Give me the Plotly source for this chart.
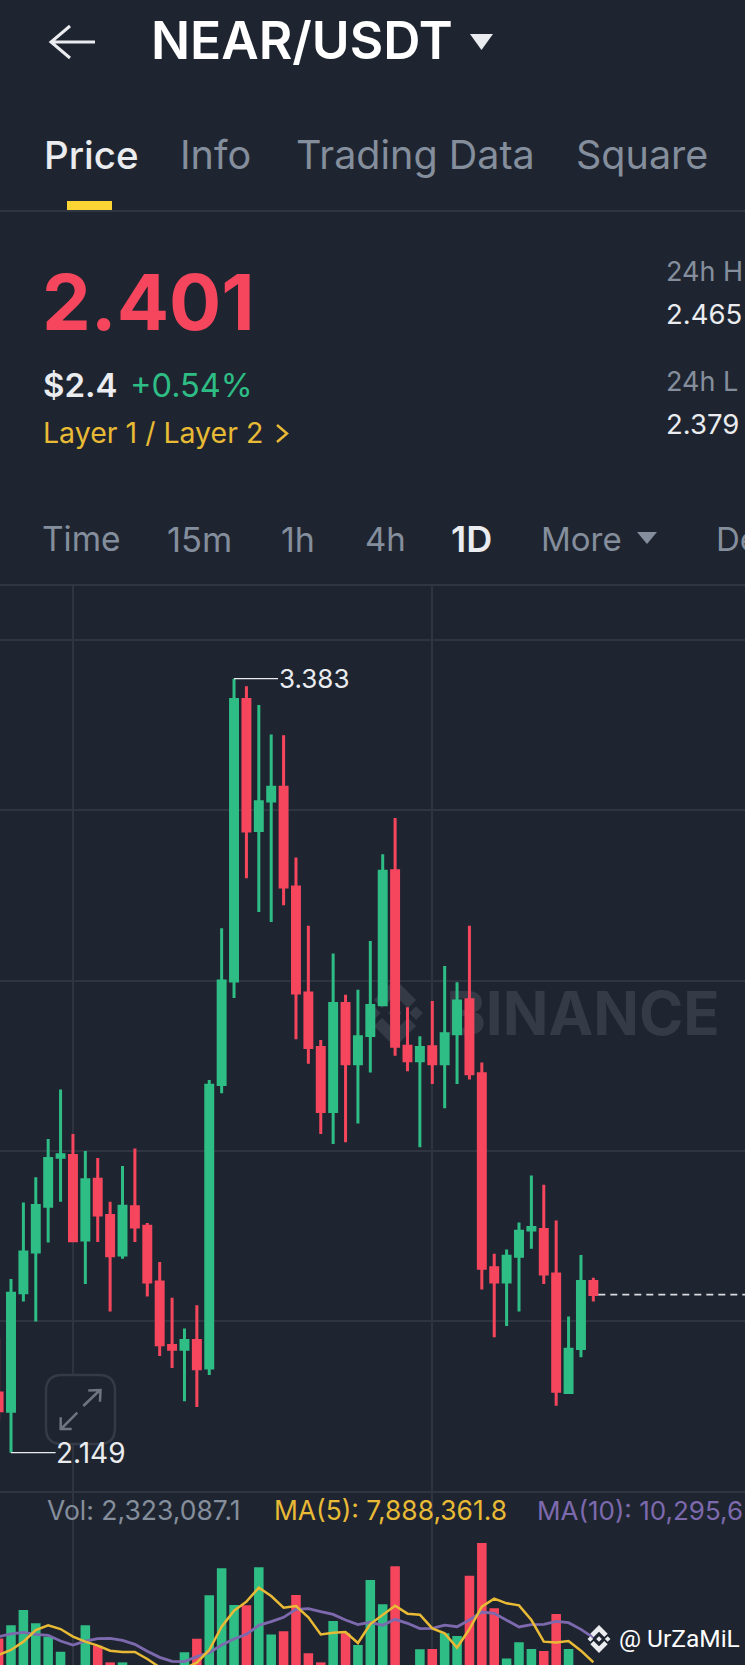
# NEAR/USDT daily candles with volume, Binance app screen
import plotly.graph_objects as go

W = 745
H = 1665

days = list(range(-1, 48))
opens = [2.244, 2.215, 2.404, 2.469, 2.542, 2.620, 2.623, 2.488, 2.585, 2.527,
         2.464, 2.541, 2.510, 2.421, 2.320, 2.314, 2.328, 2.284, 2.736, 2.901,
         3.350, 3.141, 3.188, 3.210, 3.051, 2.882, 2.795, 2.693, 2.865, 2.769,
         2.814, 2.863, 3.077, 2.797, 2.774, 2.796, 2.769, 2.817, 2.871, 2.753,
         2.444, 2.421, 2.462, 2.504, 2.505, 2.434, 2.245, 2.315, 2.422]
highs = [2.332, 2.426, 2.548, 2.588, 2.649, 2.728, 2.657, 2.630, 2.619, 2.549,
         2.606, 2.634, 2.515, 2.453, 2.396, 2.347, 2.384, 2.743, 2.985, 3.383,
         3.371, 3.341, 3.294, 3.293, 3.098, 2.989, 2.807, 2.945, 2.879, 2.887,
         2.965, 3.103, 3.161, 2.859, 2.813, 2.869, 2.925, 2.899, 2.989, 2.771,
         2.466, 2.473, 2.516, 2.591, 2.576, 2.519, 2.366, 2.464, 2.428]
lows = [2.200, 2.149, 2.390, 2.358, 2.484, 2.549, 2.487, 2.418, 2.485, 2.374,
        2.458, 2.485, 2.398, 2.303, 2.284, 2.231, 2.222, 2.273, 2.722, 2.874,
        3.065, 3.011, 2.995, 3.022, 2.808, 2.769, 2.657, 2.641, 2.644, 2.674,
        2.755, 2.863, 2.782, 2.757, 2.636, 2.737, 2.698, 2.737, 2.744, 2.409,
        2.333, 2.351, 2.374, 2.474, 2.418, 2.224, 2.243, 2.301, 2.390]
closes = [2.216, 2.403, 2.469, 2.543, 2.618, 2.624, 2.487, 2.584, 2.528, 2.463,
          2.542, 2.509, 2.421, 2.321, 2.314, 2.328, 2.283, 2.735, 2.901, 3.350,
          3.140, 3.187, 3.210, 3.051, 2.882, 2.795, 2.693, 2.865, 2.769, 2.812,
          2.862, 3.076, 2.797, 2.774, 2.795, 2.769, 2.817, 2.869, 2.753, 2.443,
          2.421, 2.462, 2.502, 2.508, 2.434, 2.247, 2.314, 2.422, 2.401]

# volume in millions
volumes = [10.22, 11.49, 12.99, 11.69, 10.39, 8.92, 7.00, 11.49, 9.51, 7.88,
           7.88, 6.50, 6.00, 6.00, 5.50, 8.86, 10.19, 14.42, 17.05, 13.47,
           13.44, 17.15, 10.61, 10.91, 14.45, 8.76, 7.88, 11.91, 10.71, 9.57,
           15.91, 13.54, 17.24, 7.00, 9.15, 9.19, 10.71, 10.45, 16.33, 19.52,
           13.15, 8.27, 9.84, 9.19, 8.99, 12.60, 9.19, 6.00, 2.32]
ma5 = [8.60, 9.09, 9.90, 11.04, 11.49, 11.13, 10.39, 9.90, 9.51, 9.02,
       8.89, 8.89, 8.21, 7.40, 6.97, 7.30, 7.85, 9.09, 11.36, 12.92,
       13.80, 15.16, 14.35, 13.21, 13.38, 12.27, 10.61, 10.78, 10.84, 9.77,
       11.62, 12.50, 13.41, 12.63, 12.53, 11.20, 10.71, 9.31, 11.13, 13.31,
       14.09, 13.64, 13.44, 12.01, 9.90, 9.83, 9.96, 9.02, 7.89]
ma10 = [10.39, 10.65, 10.81, 10.61, 10.52, 9.96, 9.57, 9.96, 10.19, 10.22,
        10.03, 9.64, 8.96, 8.37, 7.98, 7.95, 8.44, 8.83, 9.57, 10.16,
        10.61, 11.49, 11.85, 12.27, 13.05, 13.12, 12.82, 12.56, 12.01, 11.56,
        11.79, 11.49, 12.08, 11.69, 11.17, 11.20, 11.52, 11.36, 12.01, 12.79,
        12.66, 12.01, 11.33, 11.56, 11.59, 11.88, 11.75, 11.10, 10.30]

price_grid = [3.4447, 3.1736, 2.9010, 2.6299, 2.3589]
day_grid = [5, 34]
last_price = 2.401

BG = "#1f2530"
GRID = "#2e3440"
LINE = "#2f3541"
GREEN = "#2ebd85"
RED = "#f6465d"
WHITE = "#eaecef"
GRAY = "#848e9c"
YELLOW = "#e8ba35"
PURPLE = "#7d69ae"
MARK = "#343b46"
FONT = "Inter"


def xp(x):
    return x / W


def yp(y):
    return 1 - y / H


def path(points, close=False):
    s = "M" + " L".join(f"{xp(x):.5f},{yp(y):.5f}" for x, y in points)
    return s + (" Z" if close else "")


def round_rect(x0, y0, x1, y1, r):
    def p(x, y):
        return f"{xp(x):.5f},{yp(y):.5f}"
    return (f"M{p(x0 + r, y0)} L{p(x1 - r, y0)} Q{p(x1, y0)} {p(x1, y0 + r)} "
            f"L{p(x1, y1 - r)} Q{p(x1, y1)} {p(x1 - r, y1)} "
            f"L{p(x0 + r, y1)} Q{p(x0, y1)} {p(x0, y1 - r)} "
            f"L{p(x0, y0 + r)} Q{p(x0, y0)} {p(x0 + r, y0)} Z")


def logo_path(cx, cy, r):
    parts = []
    for dx in (-0.62, 0, 0.62):
        d = 0.2
        pts = [(dx, -d), (dx + d, 0), (dx, d), (dx - d, 0)]
        parts.append(path([(cx + a * r, cy + b * r) for a, b in pts], True))
    for sign in (-1, 1):
        pts = [(0, -1), (0.62, -0.38), (0.38, -0.14), (0, -0.52), (-0.38, -0.14), (-0.62, -0.38)]
        parts.append(path([(cx + a * r, cy + sign * b * r * -1) for a, b in pts], True))
    return " ".join(parts)


fig = go.Figure()

fig.add_trace(go.Bar(x=days, y=volumes, xaxis="x2", yaxis="y2", width=0.77,
                     marker_color=[GREEN if c >= o else RED for o, c in zip(opens, closes)],
                     marker_line_width=0))
fig.add_trace(go.Scatter(x=days, y=ma10, xaxis="x2", yaxis="y2", mode="lines",
                         line=dict(color=PURPLE, width=2.8)))
fig.add_trace(go.Scatter(x=days, y=ma5, xaxis="x2", yaxis="y2", mode="lines",
                         line=dict(color=YELLOW, width=2.5)))
fig.add_trace(go.Candlestick(x=days, open=opens, high=highs, low=lows, close=closes,
                             increasing=dict(line=dict(color=GREEN, width=3), fillcolor=GREEN),
                             decreasing=dict(line=dict(color=RED, width=3), fillcolor=RED),
                             whiskerwidth=0))

shapes = [
    dict(type="rect", xref="paper", yref="paper", x0=xp(67), x1=xp(112), y0=yp(201), y1=yp(210),
         fillcolor="#fcd535", line_width=0),
]
for y in (211, 585, 1492):
    shapes.append(dict(type="line", xref="paper", yref="paper", x0=0, x1=1, y0=yp(y), y1=yp(y),
                       line=dict(color=LINE, width=2)))

# back arrow, dropdown triangles, chevron
shapes.append(dict(type="path", xref="paper", yref="paper",
                   path=path([(95, 42), (51, 42)]) + " " + path([(70, 26), (51, 42), (70, 58)]),
                   line=dict(color=WHITE, width=3)))
shapes.append(dict(type="path", xref="paper", yref="paper",
                   path=path([(470, 34), (493, 34), (481.5, 50)], True), fillcolor=WHITE, line_width=0))
shapes.append(dict(type="path", xref="paper", yref="paper",
                   path=path([(637, 532), (657, 532), (647, 544)], True), fillcolor=GRAY, line_width=0))
shapes.append(dict(type="path", xref="paper", yref="paper",
                   path=path([(277, 425), (287, 433.5), (277, 442)]),
                   line=dict(color=YELLOW, width=2.5)))

# BINANCE watermark sits under the candles
shapes.append(dict(type="path", xref="paper", yref="paper", layer="below",
                   path=logo_path(395, 1013, 34), fillcolor=MARK, line_width=0))
shapes.append(dict(type="rect", xref="paper", yref="paper", layer="below",
                   x0=xp(447), x1=xp(719), y0=yp(1032), y1=yp(990), line_width=0,
                   label=dict(text="BINANCE", textposition="middle center",
                              font=dict(family=FONT, size=60, color=MARK, weight=700))))

# expand button
shapes.append(dict(type="path", xref="paper", yref="paper",
                   path=round_rect(46, 1375, 115, 1444, 16), fillcolor=BG,
                   line=dict(color="#343a46", width=2.5)))
shapes.append(dict(type="path", xref="paper", yref="paper",
                   path=" ".join([path([(83.3, 1406), (100, 1390)]),
                                  path([(88.3, 1390.5), (100.5, 1390), (100, 1401.7)]),
                                  path([(77.3, 1412.7), (61, 1429)]),
                                  path([(71.7, 1429), (60.7, 1429), (60.7, 1417.3)])]),
                   line=dict(color="#6e7480", width=2.5)))

# swing high/low leaders and last price
shapes.append(dict(type="line", xref="x", yref="y", x0=18, x1=21.55, y0=highs[19], y1=highs[19],
                   line=dict(color=WHITE, width=1.2)))
shapes.append(dict(type="line", xref="x", yref="y", x0=0, x1=3.6, y0=lows[1], y1=lows[1],
                   line=dict(color=WHITE, width=1.2)))
shapes.append(dict(type="line", xref="x", yref="y", x0=47.4, x1=59.3, y0=last_price, y1=last_price,
                   line=dict(color="#d8dade", width=1.6, dash="7px,5px")))

# footer watermark
shapes.append(dict(type="path", xref="paper", yref="paper",
                   path=logo_path(599, 1639, 14), fillcolor=WHITE, line_width=0))

annotations = []


def text(x, y, s, size, color, weight=400, family=FONT):
    annotations.append(dict(xref="paper", yref="paper", x=xp(x), y=yp(y), text=s,
                            showarrow=False, xanchor="left", yanchor="middle", borderpad=0,
                            font=dict(family=family, size=size, color=color, weight=weight)))


text(150, 40, "NEAR/USDT", 51.5, "#ffffff", 600)
text(43, 155, "Price", 38.5, WHITE, 500)
text(179, 155, "Info", 39.5, GRAY)
text(295, 155, "Trading Data", 39.5, GRAY)
text(575, 155, "Square", 39.5, GRAY)
text(41, 302, "2.401", 77.5, RED, 700)
text(42, 385, "$2.4", 33, WHITE, 600)
text(129, 385, "+0.54%", 32.5, GREEN)
text(42, 432.5, "Layer 1 / Layer 2", 28.5, YELLOW)
text(665, 271.7, "24h H", 27, GRAY)
text(665, 314, "2.465", 27.5, WHITE)
text(665, 381.5, "24h L", 27, GRAY)
text(665, 424, "2.379", 27.5, WHITE)
text(41, 539, "Time", 33.5, GRAY)
text(166, 539, "15m", 34.5, GRAY)
text(280, 539, "1h", 34, GRAY)
text(364, 539, "4h", 33, GRAY)
text(450, 539, "1D", 36, WHITE, 600)
text(540, 539, "More", 33, GRAY)
text(715, 539, "De", 33, GRAY)
text(278, 678.5, "3.383", 26, WHITE)
text(55, 1453, "2.149", 28, WHITE)
text(46, 1510, "Vol: 2,323,087.1", 26.5, GRAY)
text(273, 1510, "MA(5): 7,888,361.8", 26.4, YELLOW)
text(536, 1510, "MA(10): 10,295,6", 26, PURPLE)
text(618, 1638, "@ UrZaMiL", 24.5, "#ffffff", 400, "Roboto")

axis_x = dict(range=[-0.888, 59.24], tickmode="array", tickvals=day_grid, showticklabels=False,
              showgrid=True, gridcolor=GRID, gridwidth=1.5, zeroline=False, ticks="",
              rangeslider=dict(visible=False))
fig.update_layout(
    width=W, height=H, margin=dict(l=0, r=0, t=0, b=0, pad=0),
    paper_bgcolor=BG, plot_bgcolor=BG, showlegend=False, hovermode=False,
    boxgap=0.2,
    xaxis=dict(axis_x, anchor="y", domain=[0, 1]),
    xaxis2=dict(axis_x, anchor="y2", domain=[0, 1]),
    yaxis=dict(domain=[yp(1492), yp(585)], range=[2.0863, 3.5324], anchor="x",
               tickmode="array", tickvals=price_grid, showticklabels=False,
               showgrid=True, gridcolor=GRID, gridwidth=1.5, zeroline=False, ticks=""),
    yaxis2=dict(domain=[0, yp(1492)], range=[7.625, 24.49], anchor="x2",
                showticklabels=False, showgrid=False, zeroline=False, ticks=""),
    shapes=shapes, annotations=annotations,
)

fig.write_html("out.html", config=dict(displayModeBar=False),
               post_script="document.body.style.margin='0';document.body.style.overflow='hidden';")
